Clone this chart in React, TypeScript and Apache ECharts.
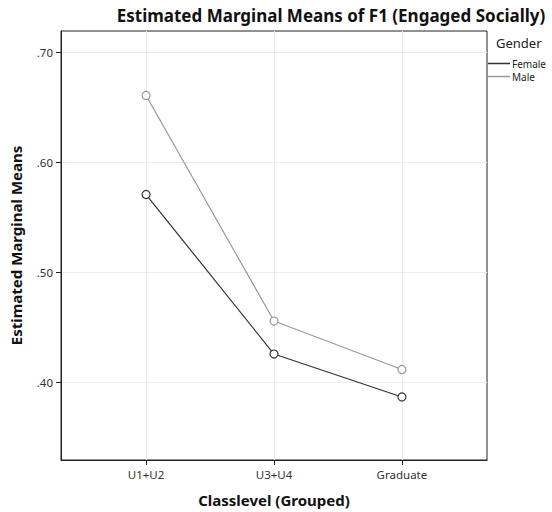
import React, { useEffect, useRef } from "react";
import * as echarts from "echarts";

const categories = ["U1+U2", "U3+U4", "Graduate"];
const femaleValues = [0.571, 0.426, 0.387];
const maleValues = [0.661, 0.456, 0.412];
const yTicks = [0.4, 0.5, 0.6, 0.7];
const xPositions = [1, 2, 3];
const seriesNames = ["Female", "Male"];
const seriesColors = ["#333", "#999"];

export default function App() {
  const ref = useRef<HTMLDivElement>(null);
  useEffect(() => {
    if (!ref.current) return;
    const chart = echarts.init(ref.current, undefined, { renderer: "svg" });
    const font = "'Noto Sans', sans-serif";
    const legendGraphics: any[] = [];
    seriesNames.forEach((name, i) => {
      const y = 63.5 + i * 13;
      legendGraphics.push({
        type: "line",
        shape: { x1: 488, y1: y, x2: 510, y2: y },
        style: { stroke: seriesColors[i], lineWidth: 1.5 },
      });
      legendGraphics.push({
        type: "text",
        x: 512,
        y: y,
        style: {
          text: name,
          fontSize: 10,
          fill: "#222",
          fontFamily: font,
          verticalAlign: "middle",
          align: "left",
        },
      });
    });
    chart.setOption({
      animation: false,
      backgroundColor: "#fff",
      textStyle: { fontFamily: font },
      title: {
        text: "Estimated Marginal Means of F1 (Engaged Socially)",
        left: 326,
        textAlign: "center",
        top: 2,
        textStyle: { fontSize: 17, fontWeight: "bold", color: "#111", fontFamily: font },
      },
      graphic: [
        {
          type: "text",
          x: 496,
          y: 43,
          style: {
            text: "Gender",
            fontSize: 13,
            fill: "#222",
            fontFamily: font,
            verticalAlign: "middle",
          },
        },
        ...legendGraphics,
      ],
      grid: {
        left: 58,
        top: 31,
        right: 65,
        bottom: 50,
        show: true,
        borderColor: "#222",
        borderWidth: 1,
        backgroundColor: "transparent",
      },
      xAxis: {
        type: "value",
        min: 0.335,
        max: 3.665,
        name: "Classlevel (Grouped)",
        nameLocation: "middle",
        nameGap: 32,
        nameTextStyle: { fontSize: 15, fontWeight: "bold", color: "#111", fontFamily: font },
        axisLine: { show: true, lineStyle: { color: "#222" } },
        axisTick: { show: true, length: 5, lineStyle: { color: "#222" }, customValues: xPositions },
        axisLabel: {
          color: "#333",
          fontSize: 11.5,
          margin: 8,
          customValues: xPositions,
          formatter: (v: number) => categories[Math.round(v) - 1] ?? "",
        },
        splitLine: { show: true, lineStyle: { color: "#ececec" } },
      },
      yAxis: {
        type: "value",
        min: 0.3297,
        max: 0.7196,
        name: "Estimated Marginal Means",
        nameLocation: "middle",
        nameGap: 38,
        nameTextStyle: { fontSize: 15, fontWeight: "bold", color: "#111", fontFamily: font },
        axisLine: { show: true, lineStyle: { color: "#222" } },
        axisTick: { show: true, length: 5, lineStyle: { color: "#222" }, customValues: yTicks },
        axisLabel: {
          color: "#333",
          fontSize: 11.5,
          margin: 8,
          customValues: yTicks,
          formatter: (v: number) => v.toFixed(2).replace(/^0/, ""),
        },
        splitLine: { show: true, lineStyle: { color: "#ececec" } },
      },
      series: [
        {
          name: seriesNames[0],
          type: "line",
          data: femaleValues.map((v, i) => [xPositions[i], v]),
          symbol: "circle",
          symbolSize: 8,
          color: seriesColors[0],
          lineStyle: { color: seriesColors[0], width: 1.2 },
          itemStyle: { color: "#fff", borderColor: seriesColors[0], borderWidth: 1.2 },
        },
        {
          name: seriesNames[1],
          type: "line",
          data: maleValues.map((v, i) => [xPositions[i], v]),
          symbol: "circle",
          symbolSize: 8,
          color: seriesColors[1],
          lineStyle: { color: seriesColors[1], width: 1.2 },
          itemStyle: { color: "#fff", borderColor: seriesColors[1], borderWidth: 1.2 },
        },
      ],
    });
    return () => chart.dispose();
  }, []);
  return (
    <div
      ref={ref}
      style={{ position: "fixed", left: 0, top: 0, width: 552, height: 512 }}
    />
  );
}
